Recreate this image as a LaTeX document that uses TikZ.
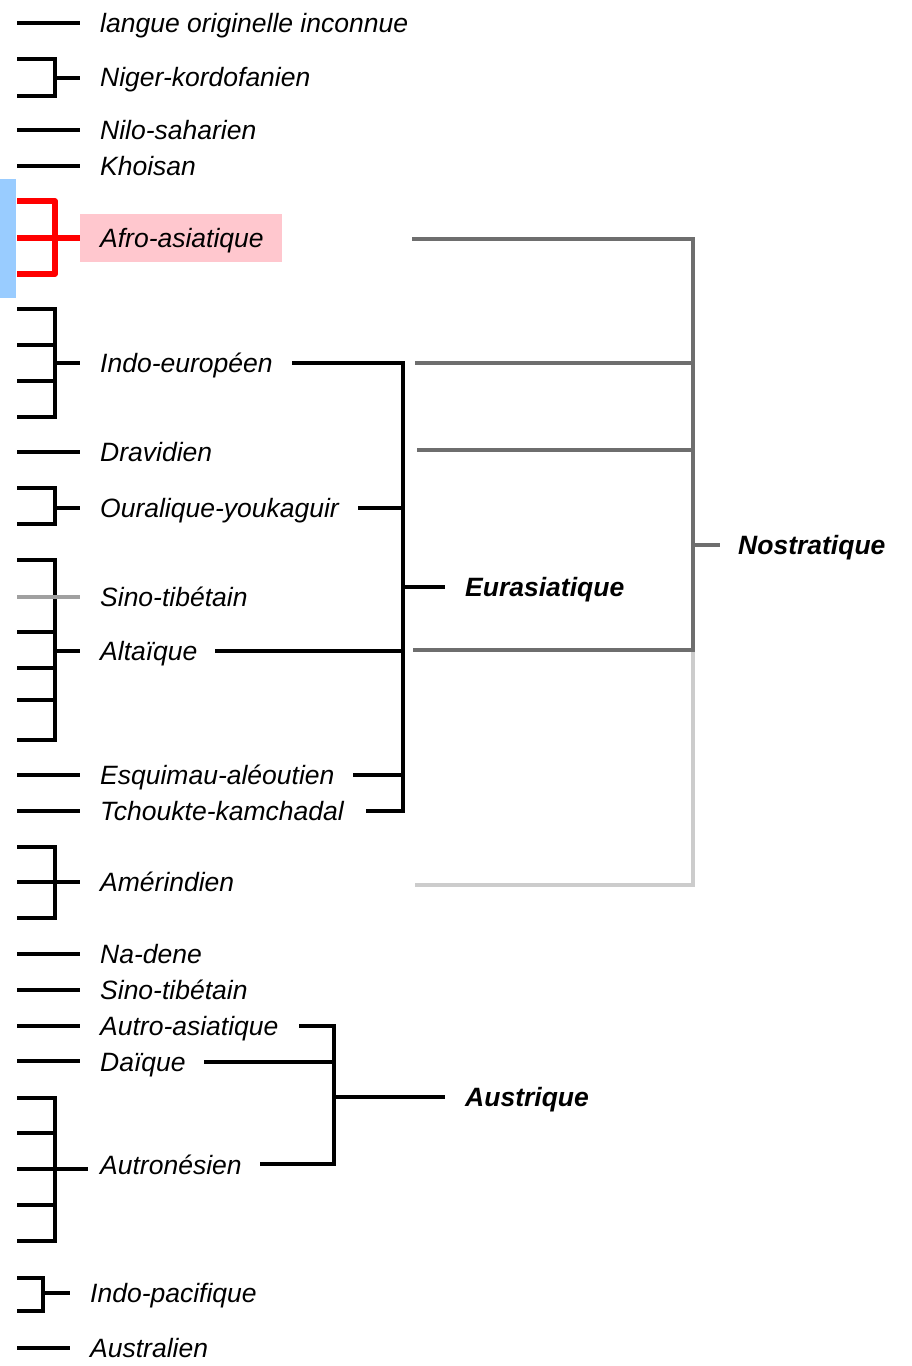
\documentclass[tikz,border=0pt]{standalone}
\usepackage{fontspec}
\setmainfont{Liberation Sans}
\definecolor{nostgray}{HTML}{6E6E6E}
\definecolor{palegray}{HTML}{CCCCCC}
\definecolor{tickgray}{HTML}{A0A0A0}
\definecolor{bluebar}{HTML}{99CCFF}
\definecolor{pinkbox}{HTML}{FFC7CE}
\begin{document}
\begin{tikzpicture}[x=1pt,y=-1pt,
  ln/.style={line width=3.5pt,black,line join=miter},
  gl/.style={line width=3.5pt,draw=nostgray,line join=miter},
  lgl/.style={line width=3.5pt,draw=palegray,line join=miter},
  tgl/.style={line width=3.5pt,draw=tickgray},
  rl/.style={line width=5.5pt,draw=red,line join=round},
  lbl/.style={anchor=base west,inner sep=0pt,font=\fontsize{26.5}{30}\selectfont\itshape},
  blbl/.style={anchor=base west,inner sep=0pt,font=\fontsize{26.5}{30}\selectfont\bfseries\itshape}]
\useasboundingbox (0,0) rectangle (912,1366);

% highlight backgrounds
\fill[bluebar] (0,179) rectangle (16,298);
\fill[pinkbox] (80,214) rectangle (282,262);

% labels
\node[lbl] (lang)   at (100,32.5)   {langue originelle inconnue};
\node[lbl] (niger)  at (100,86.5)   {Niger-kordofanien};
\node[lbl] (nilo)   at (100,139.5)  {Nilo-saharien};
\node[lbl] (khoi)   at (100,175.5)  {Khoisan};
\node[lbl] (afro)   at (100,247.5)  {Afro-asiatique};
\node[lbl] (ie)     at (100,372.5)  {Indo-européen};
\node[lbl] (drav)   at (100,461.5)  {Dravidien};
\node[lbl] (oural)  at (100,517.5)  {Ouralique-youkaguir};
\node[lbl] (sinoa)  at (100,606.5)  {Sino-tibétain};
\node[lbl] (alta)   at (100,660.5)  {Altaïque};
\node[lbl] (esq)    at (100,784.5)  {Esquimau-aléoutien};
\node[lbl] (tch)    at (100,820.5)  {Tchoukte-kamchadal};
\node[lbl] (amer)   at (100,891.5)  {Amérindien};
\node[lbl] (nad)    at (100,963.5)  {Na-dene};
\node[lbl] (sinob)  at (100,999.5)  {Sino-tibétain};
\node[lbl] (autroa) at (100,1035.5) {Autro-asiatique};
\node[lbl] (dai)    at (100,1071)   {Daïque};
\node[lbl] (autron) at (100,1174)   {Autronésien};
\node[lbl] (indop)  at (90,1302.5)  {Indo-pacifique};
\node[lbl] (austral) at (90,1357.5) {Australien};
\node[blbl] (eura)  at (465,596.5)  {Eurasiatique};
\node[blbl] (nost)  at (738,554.5)  {Nostratique};
\node[blbl] (austr) at (465,1106.5) {Austrique};

% junction coordinates
\coordinate (eT) at (403,363);
\coordinate (eB) at (403,811);
\coordinate (eM) at (403,587);
\coordinate (nT) at (693,239);
\coordinate (nA) at (693,650);
\coordinate (nM) at (693,545);
\coordinate (nB) at (693,885);
\coordinate (aT) at (334,1026);
\coordinate (aB) at (334,1164);
\coordinate (aM) at (334,1097);

% left-side leaves and brackets
\draw[ln] (17,23) -- (80,23);
\draw[ln] (17,59) -- (55,59) -- (55,96) -- (17,96);
\draw[ln] (55,78) -- (80,78);
\draw[ln] (17,130) -- (80,130);
\draw[ln] (17,166) -- (80,166);

\draw[rl] (17,201) -- (55,201) -- (55,274) -- (17,274);
\draw[rl] (17,238) -- (80,238);

\draw[ln] (17,309) -- (55,309) -- (55,417) -- (17,417);
\draw[ln] (17,345) -- (55,345);
\draw[ln] (17,381) -- (55,381);
\draw[ln] (55,363) -- (80,363);

\draw[ln] (17,452) -- (80,452);

\draw[ln] (17,488) -- (55,488) -- (55,524) -- (17,524);
\draw[ln] (55,508) -- (80,508);

\draw[ln] (17,560) -- (55,560) -- (55,740) -- (17,740);
\draw[tgl] (17,597) -- (80,597);
\draw[ln] (17,632) -- (55,632);
\draw[ln] (17,668) -- (55,668);
\draw[ln] (17,700) -- (55,700);
\draw[ln] (55,651) -- (80,651);

\draw[ln] (17,775) -- (80,775);
\draw[ln] (17,811) -- (80,811);

\draw[ln] (17,847) -- (55,847) -- (55,918) -- (17,918);
\draw[ln] (17,882) -- (80,882);

\draw[ln] (17,954) -- (80,954);
\draw[ln] (17,990) -- (80,990);
\draw[ln] (17,1026) -- (80,1026);
\draw[ln] (17,1061) -- (80,1061);

\draw[ln] (17,1098) -- (55,1098) -- (55,1241) -- (17,1241);
\draw[ln] (17,1133) -- (55,1133);
\draw[ln] (17,1205) -- (55,1205);
\draw[ln] (17,1169) -- (88,1169);

\draw[ln] (17,1278) -- (43,1278) -- (43,1311) -- (17,1311);
\draw[ln] (43,1293) -- (70,1293);
\draw[ln] (17,1348) -- (70,1348);

% Eurasiatique
\draw[ln] (292,363) -- (eT) -- (eB) -- (366,811);
\draw[ln] (358,508) -- (403,508);
\draw[ln] (215,651) -- (403,651);
\draw[ln] (353,775) -- (403,775);
\draw[ln] (eM) -- (445,587);

% Nostratique
\draw[lgl] (415,885) -- (nB) -- (nA);
\draw[gl] (412,239) -- (nT) -- (nA) -- (413,650);
\draw[gl] (415,363) -- (693,363);
\draw[gl] (417,450) -- (693,450);
\draw[gl] (nM) -- (720,545);

% Austrique
\draw[ln] (299,1026) -- (aT) -- (aB) -- (260,1164);
\draw[ln] (204,1062) -- (334,1062);
\draw[ln] (aM) -- (445,1097);
\end{tikzpicture}
\end{document}
